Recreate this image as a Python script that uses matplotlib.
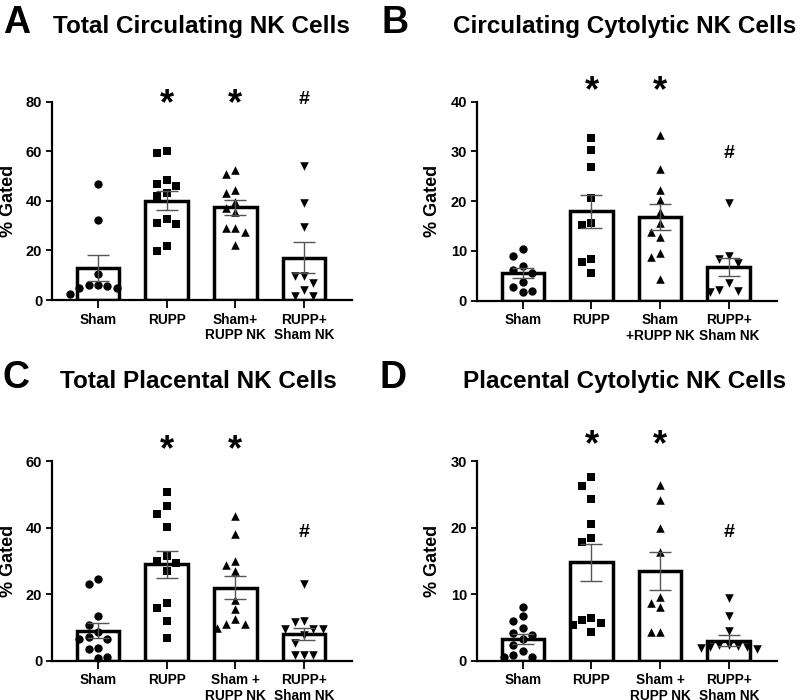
import numpy as np
import matplotlib
matplotlib.use("Agg")
import matplotlib.pyplot as plt

plt.rcParams['font.family'] = ['Liberation Sans', 'DejaVu Sans']
plt.rcParams['font.weight'] = 'bold'

#-----------------------------------------------------------------------
# Data
#-----------------------------------------------------------------------

# Panel A : Total Circulating NK Cells
a_sham = [47.0, 32.2, 10.5, 6.0, 6.0, 5.8, 4.8, 4.8, 2.5]
a_rupp = [60.0, 59.3, 48.6, 46.8, 45.8, 43.0, 41.9, 32.5, 30.9, 30.5, 21.9, 19.9]
a_sham_rupp_nk = [52.4, 50.7, 44.4, 43.0, 39.6, 37.0, 35.6, 29.0, 28.9, 27.6, 22.0]
a_rupp_sham_nk = [54.0, 39.2, 29.3, 9.5, 9.5, 7.0, 4.0, 1.6, 1.6]
a_means = [13.0, 40.0, 37.4, 17.0]
a_sems = [5.3, 3.8, 3.0, 6.3]
a_labels = ["Sham", "RUPP", "Sham+\nRUPP NK", "RUPP+\nSham NK"]
a_marks = ["", "*", "*", "#"]
a_mark_y = [0, 82, 82, 81]

# Panel B : Circulating Cytolytic NK Cells
b_sham = [10.3, 9.0, 7.0, 6.2, 5.5, 3.7, 2.7, 2.0, 1.8]
b_rupp = [32.8, 30.3, 26.8, 20.7, 15.6, 15.2, 8.4, 7.8, 5.6]
b_sham_rupp_nk = [33.4, 26.5, 22.3, 20.3, 17.9, 15.7, 13.9, 12.9, 9.5, 8.7, 4.4]
b_rupp_sham_nk = [19.7, 9.0, 8.3, 7.6, 3.5, 2.1, 2.0, 1.8]
b_means = [5.5, 18.0, 16.8, 6.8]
b_sems = [1.0, 3.3, 2.55, 1.8]
b_labels = ["Sham", "RUPP", "Sham\n+RUPP NK", "RUPP+\nSham NK"]
b_marks = ["", "*", "*", "#"]
b_mark_y = [0, 43.7, 43.7, 29.5]

# Panel C : Total Placental NK Cells
c_sham = [24.6, 23.0, 13.4, 10.7, 8.5, 7.2, 6.6, 6.5, 3.7, 3.4, 1.0, 0.7]
c_rupp = [50.8, 46.6, 44.0, 40.2, 31.6, 29.9, 29.3, 27.1, 17.3, 15.7, 11.9, 6.7]
c_sham_rupp_nk = [43.5, 38.2, 30.0, 28.7, 27.1, 18.3, 15.4, 12.4, 10.9, 10.9, 9.7]
c_rupp_sham_nk = [23.0, 12.0, 11.7, 9.6, 9.4, 9.4, 7.7, 5.2, 1.7, 1.7, 1.7]
c_means = [9.0, 29.0, 22.0, 8.0]
c_sems = [2.3, 4.05, 3.6, 1.9]
c_labels = ["Sham", "RUPP", "Sham +\nRUPP NK", "RUPP+\nSham NK"]
c_marks = ["", "*", "*", "#"]
c_mark_y = [0, 65.5, 65.5, 38.6]

# Panel D : Placental Cytolytic NK Cells
d_sham = [8.1, 6.7, 5.9, 4.9, 4.1, 3.9, 3.3, 2.4, 1.5, 0.8, 0.6, 0.5]
d_rupp = [27.6, 26.3, 24.3, 20.5, 18.4, 17.9, 6.4, 6.1, 5.7, 5.4, 4.3]
d_sham_rupp_nk = [26.4, 24.1, 20.0, 16.3, 9.5, 8.7, 8.0, 4.3, 4.3]
d_rupp_sham_nk = [9.4, 6.7, 4.4, 2.4, 2.3, 2.2, 2.1, 2.0, 1.9, 1.8]
d_means = [3.3, 14.8, 13.5, 3.0]
d_sems = [0.75, 2.75, 2.8, 0.8]
d_labels = ["Sham", "RUPP", "Sham +\nRUPP NK", "RUPP+\nSham NK"]
d_marks = ["", "*", "*", "#"]
d_mark_y = [0, 33.5, 33.5, 19.3]

MARKERS = ['o', 's', '^', 'v']
MSIZE = [36, 32, 38, 38]
XLIM = (-0.67, 3.70)
AX_W_PX = 300.0


def swarm_offsets(values, ymax, ax_h_px, step_px=9.3, min_dist=9.0):
    # simple beeswarm: put each point as close to the centre as possible
    y_scale = ax_h_px / ymax
    placed = []
    offsets = []
    for v in values:
        ypx = v * y_scale
        k = 0
        while True:
            cands = [0.0] if k == 0 else [-k * step_px, k * step_px]
            ok = None
            for c in cands:
                if all((c - px) ** 2 + (ypx - py) ** 2 >= min_dist ** 2 for px, py in placed):
                    ok = c
                    break
            if ok is not None:
                placed.append((ok, ypx))
                offsets.append(ok)
                break
            k += 1
    x_scale = AX_W_PX / (XLIM[1] - XLIM[0])
    return np.array(offsets) / x_scale


def draw_panel(rect, groups, means, sems, labels, marks, mark_y, ymax, ystep):
    ax = fig.add_axes(rect)
    ax_h_px = rect[3] * 700
    x = np.arange(len(groups))

    ax.bar(x, means, width=0.62, color='white', edgecolor='none', zorder=1)
    for i, vals in enumerate(groups):
        off = swarm_offsets(vals, ymax, ax_h_px)
        ax.scatter(x[i] + off, vals, marker=MARKERS[i], s=MSIZE[i], color='black',
                   linewidths=0, zorder=2, clip_on=False)
    ax.bar(x, means, width=0.62, color='none', edgecolor='black', linewidth=2.5, zorder=3)
    ax.errorbar(x, means, yerr=sems, fmt='none', ecolor='#555555', elinewidth=1.0,
                capsize=8, capthick=1.0, zorder=4)

    # significance marks; the asterisk glyph sits high, so nudge it down
    for i, m in enumerate(marks):
        if m == "*":
            ax.annotate(m, xy=(x[i], mark_y[i]), xytext=(0, -6), textcoords='offset points',
                        ha='center', va='center', fontsize=26, fontweight='bold',
                        annotation_clip=False)
        elif m:
            ax.text(x[i], mark_y[i], m, ha='center', va='center', fontsize=14,
                    fontweight='bold', clip_on=False)

    ax.set_xlim(*XLIM)
    ax.set_ylim(0, ymax)
    ax.set_yticks(np.arange(0, ymax + 0.1, ystep))
    ax.set_xticks(x)
    ax.set_xticklabels(labels, fontsize=9.8, fontweight='bold', linespacing=1.15)
    for t in ax.get_yticklabels():
        t.set_fontsize(10.5)
        t.set_fontweight('bold')
    ax.spines['top'].set_visible(False)
    ax.spines['right'].set_visible(False)
    ax.spines['left'].set_linewidth(1.6)
    ax.spines['bottom'].set_linewidth(1.6)
    ax.tick_params(axis='x', length=6, width=1.3, pad=3)
    ax.tick_params(axis='y', length=4, width=1.3, pad=3)
    ax.set_ylabel("% Gated", fontsize=13, fontweight='bold')
    ax.yaxis.set_label_coords(-0.118, 0.5)
    return ax


fig = plt.figure(figsize=(8, 7), dpi=100)

draw_panel([0.065, 0.5714, 0.375, 0.2833],
           [a_sham, a_rupp, a_sham_rupp_nk, a_rupp_sham_nk],
           a_means, a_sems, a_labels, a_marks, a_mark_y, 80, 20)
draw_panel([0.596, 0.5704, 0.375, 0.2843],
           [b_sham, b_rupp, b_sham_rupp_nk, b_rupp_sham_nk],
           b_means, b_sems, b_labels, b_marks, b_mark_y, 40, 10)
draw_panel([0.065, 0.0561, 0.375, 0.2853],
           [c_sham, c_rupp, c_sham_rupp_nk, c_rupp_sham_nk],
           c_means, c_sems, c_labels, c_marks, c_mark_y, 60, 20)
draw_panel([0.596, 0.0561, 0.375, 0.2853],
           [d_sham, d_rupp, d_sham_rupp_nk, d_rupp_sham_nk],
           d_means, d_sems, d_labels, d_marks, d_mark_y, 30, 10)

# panel letters and titles
fig.text(3 / 800, 1 - 33 / 700, "A", fontsize=27, fontweight='bold', va='baseline')
fig.text(53 / 800, 1 - 33 / 700, "Total Circulating NK Cells", fontsize=17.5,
         fontweight='bold', va='baseline')
fig.text(382 / 800, 1 - 33 / 700, "B", fontsize=27, fontweight='bold', va='baseline')
fig.text(453 / 800, 1 - 33 / 700, "Circulating Cytolytic NK Cells", fontsize=17.5,
         fontweight='bold', va='baseline')
fig.text(3 / 800, 1 - 388 / 700, "C", fontsize=27, fontweight='bold', va='baseline')
fig.text(60 / 800, 1 - 388 / 700, "Total Placental NK Cells", fontsize=17.5,
         fontweight='bold', va='baseline')
fig.text(380 / 800, 1 - 388 / 700, "D", fontsize=27, fontweight='bold', va='baseline')
fig.text(463 / 800, 1 - 388 / 700, "Placental Cytolytic NK Cells", fontsize=17.5,
         fontweight='bold', va='baseline')

fig.savefig("out.png", dpi=100)
